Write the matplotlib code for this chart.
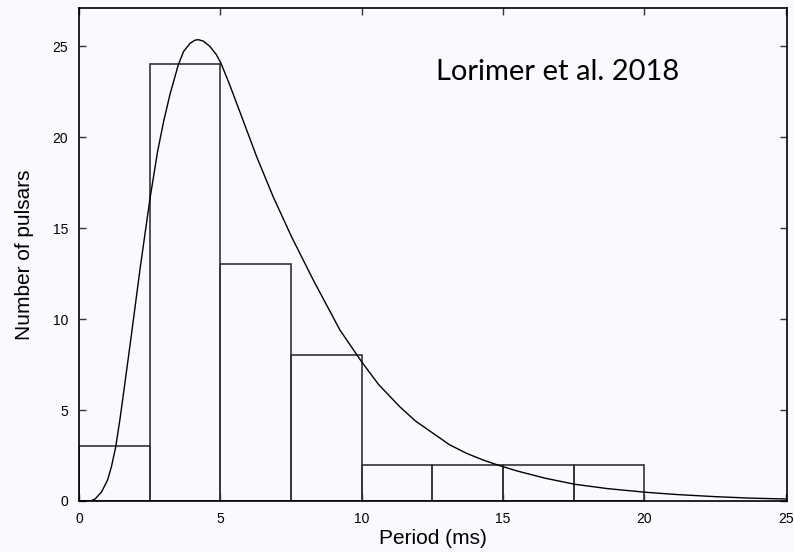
import matplotlib
matplotlib.use("Agg")
import matplotlib.pyplot as plt

# Histogram data (bin edges in ms, counts)
bin_left = [0, 2.5, 5, 7.5, 10, 12.5, 15, 17.5]
bin_width = 2.5
counts = [3, 24, 13, 8, 2, 2, 2, 2]

# Model curve
curve_x = [0.0, 0.4, 0.57, 0.8, 1.01, 1.15, 1.30, 1.45, 1.60, 1.86, 2.16, 2.51,
           2.78, 3.0, 3.22, 3.51, 3.7, 3.93, 4.1, 4.22, 4.4, 4.63, 4.85, 5.01,
           5.3, 5.7, 6.29, 6.87, 7.52, 8.29, 9.23, 10.0, 10.6, 11.35, 11.9, 12.53,
           13.1, 13.71, 14.3, 14.87, 15.5, 16.5, 17.54, 18.7, 20.05, 21.2, 22.5,
           23.7, 25.03]
curve_y = [0.0, 0.0, 0.11, 0.5, 1.15, 1.9, 2.98, 4.5, 6.2, 9.2, 12.75, 16.6,
           19.2, 20.9, 22.35, 23.95, 24.7, 25.15, 25.32, 25.35, 25.27, 24.98, 24.55, 24.1,
           23.0, 21.35, 18.9, 16.72, 14.52, 12.14, 9.40, 7.65, 6.4, 5.18, 4.4, 3.72,
           3.1, 2.62, 2.25, 1.95, 1.65, 1.25, 0.92, 0.68, 0.48, 0.35, 0.24,
           0.16, 0.11]

xticks = [0, 5, 10, 15, 20, 25]
yticks = [0, 5, 10, 15, 20, 25]

bg = "#f9fafd"
fig = plt.figure(figsize=(7.94, 5.52), dpi=100, facecolor=bg)
ax = fig.add_axes([79/794, 51/552, 708/794, 493/552])
ax.set_facecolor(bg)

ax.bar(bin_left, counts, width=bin_width, align="edge", facecolor="none",
       edgecolor="#333333", linewidth=1.2, zorder=2)
ax.plot(curve_x, curve_y, color="black", linewidth=1.0, zorder=3,
        solid_joinstyle="round")

ax.set_xlim(0, 25.05)
ax.set_ylim(0, 27.09)
ax.set_xticks(xticks)
ax.set_yticks(yticks)
ax.tick_params(direction="in", length=5, width=1, color="#333333",
               top=True, right=True, labelsize=10, pad=8,
               labelfontfamily="Liberation Sans")
for s in ax.spines.values():
    s.set_linewidth(1.2)
    s.set_color("black")

ax.set_xlabel("Period (ms)", fontsize=15, family="Liberation Sans")
ax.xaxis.set_label_coords(0.5, -0.057)
ax.set_ylabel("Number of pulsars", fontsize=15, family="Liberation Sans")
ax.yaxis.set_label_coords(-0.0636, 0.5)

ax.text(436, 472, "Lorimer et al. 2018", transform=None, fontsize=21,
        family="Lato", color="black", ha="left", va="baseline")

fig.savefig("out.png", dpi=100, facecolor=bg)
